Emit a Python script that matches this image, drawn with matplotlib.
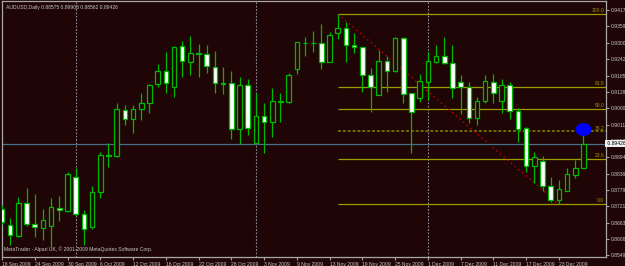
import numpy as np
import matplotlib
matplotlib.use('Agg')
from matplotlib import pyplot as plt
from matplotlib.patches import Rectangle, Ellipse
from matplotlib.transforms import ScaledTranslation

# AUDUSD daily bars, 18 Sep 2009 .. end of Dec 2009
opens = [0.87111, 0.86543, 0.86152, 0.87324, 0.86578, 0.86436, 0.86507, 0.87146, 0.87040, 0.88247,
         0.86933, 0.86472, 0.87714, 0.89028, 0.88992, 0.90625, 0.90306, 0.90661, 0.90874, 0.91548,
         0.92010, 0.91442, 0.92897, 0.92329, 0.92649, 0.92613, 0.92152, 0.91584, 0.91584, 0.89951,
         0.91513, 0.89454, 0.90412, 0.90199, 0.90945, 0.90909, 0.92081, 0.93004, 0.93004, 0.93004,
         0.92329, 0.93359, 0.93536, 0.92933, 0.92862, 0.91868, 0.91158, 0.92365, 0.92010, 0.93181,
         0.91229, 0.91051, 0.91619, 0.92329, 0.92542, 0.92294, 0.91619, 0.91442, 0.90341, 0.90945,
         0.91619, 0.90945, 0.91513, 0.90590, 0.89986, 0.88637, 0.88815, 0.87927, 0.87430, 0.87750,
         0.88318, 0.88575]
highs = [0.87253, 0.86791, 0.87537, 0.87856, 0.87643, 0.87111, 0.87501, 0.87572, 0.88424, 0.88566,
         0.87075, 0.87927, 0.89134, 0.89454, 0.90874, 0.90803, 0.90803, 0.91229, 0.91548, 0.92258,
         0.92684, 0.92897, 0.93075, 0.93252, 0.92968, 0.92933, 0.92720, 0.92152, 0.92010, 0.91797,
         0.91726, 0.91229, 0.90874, 0.91406, 0.91229, 0.91939, 0.93039, 0.93217, 0.93430, 0.93678,
         0.93394, 0.94033, 0.93749, 0.93359, 0.92870, 0.92116, 0.92755, 0.92542, 0.93217, 0.93217,
         0.91235, 0.91903, 0.92684, 0.92933, 0.93217, 0.92933, 0.91868, 0.91619, 0.91087, 0.91868,
         0.91903, 0.91726, 0.91619, 0.90696, 0.90022, 0.89134, 0.88992, 0.88247, 0.88140, 0.88566,
         0.88850, 0.89903]
lows = [0.86578, 0.85833, 0.86117, 0.86507, 0.86117, 0.86010, 0.85762, 0.86685, 0.87004, 0.86862,
        0.85833, 0.86401, 0.87501, 0.88602, 0.88957, 0.90093, 0.89809, 0.90270, 0.90519, 0.91442,
        0.91229, 0.91087, 0.91797, 0.91868, 0.91797, 0.91939, 0.91229, 0.91193, 0.89596, 0.89418,
        0.89738, 0.89440, 0.89099, 0.89667, 0.90199, 0.90874, 0.91903, 0.92542, 0.92684, 0.92081,
        0.92320, 0.93146, 0.92329, 0.92649, 0.91264, 0.90554, 0.91150, 0.91264, 0.91974, 0.90874,
        0.89099, 0.90909, 0.90980, 0.92294, 0.92258, 0.91051, 0.90483, 0.90164, 0.90093, 0.90874,
        0.90874, 0.90519, 0.90306, 0.89490, 0.88424, 0.88034, 0.87750, 0.87359, 0.87288, 0.87740,
        0.88211, 0.88562]
closes = [0.86649, 0.86188, 0.87324, 0.86578, 0.86472, 0.86720, 0.87182, 0.87075, 0.88353, 0.86933,
          0.86401, 0.87714, 0.89028, 0.89010, 0.90661, 0.90306, 0.90661, 0.90874, 0.91530, 0.92010,
          0.91584, 0.92862, 0.92365, 0.92649, 0.92631, 0.92187, 0.91584, 0.91566, 0.89951, 0.91513,
          0.89986, 0.90412, 0.90199, 0.90945, 0.90927, 0.91868, 0.93030, 0.92990, 0.92995, 0.92329,
          0.93288, 0.93536, 0.92933, 0.92862, 0.91868, 0.91442, 0.92365, 0.92010, 0.93181, 0.91193,
          0.90554, 0.91655, 0.92365, 0.92542, 0.92294, 0.91406, 0.91442, 0.90341, 0.90945, 0.91655,
          0.91229, 0.91513, 0.90590, 0.89951, 0.88637, 0.88957, 0.87927, 0.87430, 0.87821, 0.88353,
          0.88566, 0.89426]

date_labels = ['18 Sep 2009', '24 Sep 2009', '30 Sep 2009', '6 Oct 2009', '12 Oct 2009',
               '16 Oct 2009', '22 Oct 2009', '28 Oct 2009', '3 Nov 2009', '9 Nov 2009',
               '13 Nov 2009', '19 Nov 2009', '25 Nov 2009', '1 Dec 2009', '7 Dec 2009',
               '11 Dec 2009', '17 Dec 2009', '23 Dec 2009']
price_ticks = [0.94175, 0.93590, 0.93005, 0.92420, 0.91850, 0.91280, 0.90695, 0.90110,
               0.89525, 0.88945, 0.88365, 0.87790, 0.87215, 0.86630, 0.86060, 0.85490]
month_starts = [9, 31, 52]

fib_ratios = [1.0, 0.618, 0.5, 0.382, 0.236, 0.0]
fib_names = ['100.0', '61.8', '50.0', '38.2', '23.6', '0.0']
fib_from, fib_to = 41, 68
fib_high, fib_low = 0.94033, 0.87288
last_price = 0.89426
marker_price = 0.89933

BG = '#1f0505'
GREEN = '#00b800'
OLIVE = '#9c9c00'
TXT = '#c8c8c8'
FONT = ['Liberation Sans', 'DejaVu Sans']
FS = 3.6

fig = plt.figure(figsize=(6.25, 2.66), dpi=100, facecolor=BG)
ax = fig.add_axes([2 / 625, 9 / 266, 604 / 625, 256 / 266], facecolor=BG)

n = len(opens)
# candles
for i in range(n):
    o, h, l, c = opens[i], highs[i], lows[i], closes[i]
    ax.vlines(i, l, h, color=GREEN, lw=0.9, zorder=3)
    fill = '#ffffff' if c < o else BG
    ax.add_patch(Rectangle((i - 0.28, min(o, c)), 0.56, abs(c - o), facecolor=fill,
                           edgecolor=GREEN, lw=0.9, zorder=4))

# fibonacci retracement
for r, name in zip(fib_ratios, fib_names):
    lvl = fib_low + r * (fib_high - fib_low)
    if name == '38.2':
        ax.hlines(lvl, fib_from, 80, color='#6c6c00', lw=1.4, ls=(0, (1.5, 1)), zorder=2)
    else:
        ax.hlines(lvl, fib_from, 80, color=OLIVE, lw=0.9, zorder=2)
    ax.text(73.55, lvl + 0.0003, name, color=OLIVE, fontsize=FS, family=FONT,
            ha='right', va='bottom', zorder=6)
ax.plot([fib_from, fib_to], [fib_high, fib_low], color='#d00000', lw=1.0,
        ls=(0, (1, 2.5)), zorder=2)

# month separators
for m in month_starts:
    ax.axvline(m, color='#8c8c9c', lw=0.8, ls=(0, (1.5, 1.5)), zorder=1)

# bid line
ax.axhline(last_price, color='#46708a', lw=0.9, zorder=2.5)

ax.add_patch(Ellipse((n - 1, marker_price), 1.95, 0.0046, facecolor='#0000ff',
                     edgecolor='none', zorder=7))

ax.set_xlim(0, 73.75)
ax.set_ylim(0.85407, 0.94495)

ax.set_xticks(range(0, 4 * len(date_labels), 4))
ax.set_xticklabels(date_labels, fontsize=FS, family=FONT, color=TXT, ha='left')
for lab in ax.get_xticklabels():
    lab.set_transform(lab.get_transform() + ScaledTranslation(1.5 / 100, 0, fig.dpi_scale_trans))
ax.yaxis.tick_right()
ax.set_yticks(price_ticks)
ax.set_yticklabels([f'{p:.5f}' for p in price_ticks], fontsize=FS, family=FONT, color=TXT)
ax.tick_params(axis='both', colors='#a0a0a0', length=2.5, width=0.8, pad=1)
ax.tick_params(axis='x', labelcolor=TXT)
ax.tick_params(axis='y', labelcolor=TXT)
for sp in ax.spines.values():
    sp.set_color('#a8a8a8')
    sp.set_linewidth(0.9)

ax.text(1.0, last_price, ' 0.89426', transform=ax.get_yaxis_transform(), fontsize=FS,
        family=FONT, color='black', ha='left', va='center', zorder=8,
        bbox=dict(facecolor='#f0f0f0', edgecolor='none', pad=0.8), clip_on=False)

ax.text(0.006, 0.985, 'AUDUSD,Daily 0.88575 0.89903 0.88562 0.89426', transform=ax.transAxes,
        fontsize=FS, family=FONT, color=TXT, ha='left', va='top')
ax.text(0.004, 0.018, 'MetaTrader - Alpari UK, \u00a9 2001-2009 MetaQuotes Software Corp.',
        transform=ax.transAxes, fontsize=FS, family=FONT, color=TXT, ha='left', va='bottom')

fig.savefig('out.png', dpi=100, facecolor=BG)
